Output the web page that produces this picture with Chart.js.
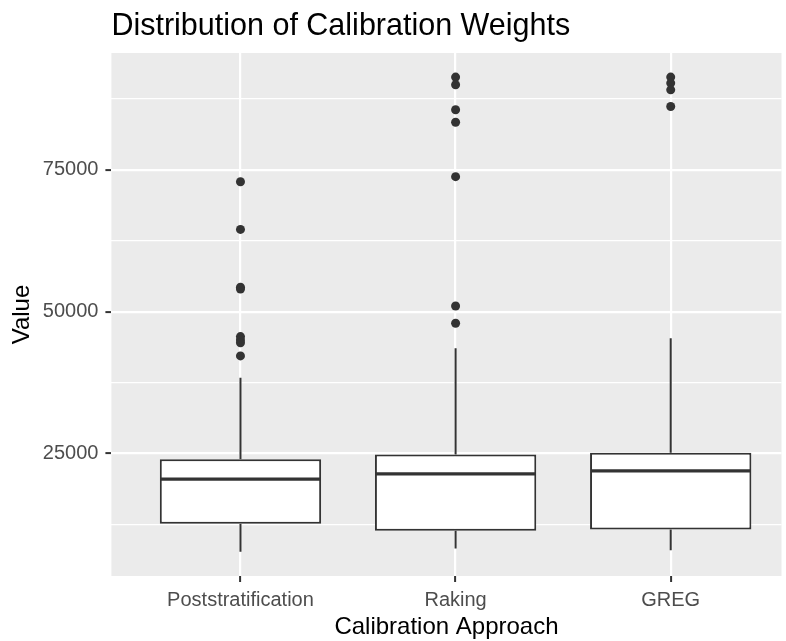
<!DOCTYPE html>
<html>
<head>
<meta charset="utf-8">
<script src="https://cdn.jsdelivr.net/npm/chart.js@4.4.1/dist/chart.umd.min.js"></script>
<style>
  html, body { margin: 0; padding: 0; background: #fff; }
  #wrap { width: 786px; height: 641px; position: relative; }
</style>
</head>
<body>
<div id="wrap"><canvas id="box"></canvas></div>
<script>
/* ggplot-style boxplot: calibration weights by approach */
var CATS = ['Poststratification', 'Raking', 'GREG'];
// five-number summaries
var WLO = [7660, 8260, 7960];
var Q1  = [12600, 11360, 11610];
var MED = [20480, 21420, 21950];
var Q3  = [23960, 24840, 25120];
var WHI = [38360, 43540, 45310];
// outliers per approach
var OUT_POST = [72900, 64500, 54300, 54000, 45600, 45000, 44500, 42200];
var OUT_RAKE = [91350, 90000, 85600, 83400, 73800, 51000, 47950];
var OUT_GREG = [91350, 90300, 89100, 86170];
var Y_TICKS = [12500, 25000, 37500, 50000, 62500, 75000, 87500];
var Y_MAJOR = [25000, 50000, 75000];

var INK = '#333333', GREY = '#4D4D4D', PANEL = '#EBEBEB', FONT = "'Liberation Sans', Arial, sans-serif";

function isMajor(v) { return Y_MAJOR.indexOf(v) >= 0; }

var outPts = [];
[OUT_POST, OUT_RAKE, OUT_GREG].forEach(function (arr, i) {
  arr.forEach(function (v) { outPts.push({ x: i + 1, y: v }); });
});

var boxPlugin = {
  id: 'ggbox',
  beforeDraw: function (chart) {
    var a = chart.chartArea, c = chart.ctx;
    c.save(); c.fillStyle = PANEL; c.fillRect(a.left, a.top, a.right - a.left, a.bottom - a.top); c.restore();
  },
  beforeDatasetsDraw: function (chart) {
    var c = chart.ctx, xs = chart.scales.x, ys = chart.scales.y;
    c.save(); c.strokeStyle = INK; c.lineWidth = 2;
    CATS.forEach(function (_, i) {
      var px = xs.getPixelForValue(i + 1);
      c.beginPath();
      c.moveTo(px, ys.getPixelForValue(Q3[i])); c.lineTo(px, ys.getPixelForValue(WHI[i]));
      c.moveTo(px, ys.getPixelForValue(Q1[i])); c.lineTo(px, ys.getPixelForValue(WLO[i]));
      c.stroke();
    });
    c.restore();
  },
  afterDatasetsDraw: function (chart) {
    var c = chart.ctx, xs = chart.scales.x, ys = chart.scales.y;
    var half = (xs.getPixelForValue(1.375) - xs.getPixelForValue(1));
    c.save(); c.strokeStyle = INK; c.lineWidth = 3.2;
    CATS.forEach(function (_, i) {
      var px = xs.getPixelForValue(i + 1), py = ys.getPixelForValue(MED[i]);
      c.beginPath(); c.moveTo(px - half + 1, py); c.lineTo(px + half - 1, py); c.stroke();
    });
    c.restore();
  }
};

new Chart(document.getElementById('box').getContext('2d'), {
  data: {
    datasets: [
      { type: 'scatter', data: outPts, pointRadius: 4.5, pointBackgroundColor: INK, pointBorderWidth: 0, order: 0 },
      { type: 'bar', data: CATS.map(function (_, i) { return { x: i + 1, y: [Q1[i], Q3[i]] }; }),
        backgroundColor: '#fff', borderColor: INK, borderWidth: 2, borderSkipped: false,
        categoryPercentage: 1, barPercentage: 0.75, order: 1 }
    ]
  },
  options: {
    responsive: true, maintainAspectRatio: false, animation: false,
    layout: { padding: 0 },
    plugins: {
      legend: { display: false }, tooltip: { enabled: false },
      title: { display: true, text: 'Distribution of Calibration Weights', align: 'start', fullSize: false,
        color: '#000', font: { family: FONT, size: 30.5, weight: 'normal', lineHeight: 1.2 },
        padding: { top: 8.5, bottom: 7.9 } }
    },
    scales: {
      x: { type: 'linear', min: 0.4, max: 3.515, offset: false,
        afterBuildTicks: function (s) { s.ticks = CATS.map(function (_, i) { return { value: i + 1 }; }); },
        afterFit: function (s) { s.height = 65; },
        border: { display: false },
        grid: { offset: false, color: '#fff', lineWidth: 2.2, tickColor: INK, tickLength: 6, tickWidth: 2 },
        ticks: { color: GREY, font: { family: FONT, size: 20 }, padding: 6, maxRotation: 0, autoSkip: false,
          callback: function (v) { return CATS[v - 1]; } },
        title: { display: true, text: 'Calibration Approach', color: '#000', font: { family: FONT, size: 24 }, padding: { top: 0, bottom: -1 } } },
      y: { type: 'linear', min: 3400, max: 95600,
        afterBuildTicks: function (s) { s.ticks = Y_TICKS.map(function (v) { return { value: v }; }); },
        afterFit: function (s) { s.width = 111.4; },
        border: { display: false },
        grid: { color: '#fff', lineWidth: function (ctx) { return isMajor(ctx.tick.value) ? 2.2 : 1.3; },
          tickColor: function (ctx) { return isMajor(ctx.tick.value) ? INK : 'rgba(0,0,0,0)'; },
          tickLength: 6, tickWidth: 2 },
        ticks: { color: GREY, font: { family: FONT, size: 20 }, padding: 7, autoSkip: false,
          callback: function (v) { return isMajor(v) ? String(v) : ''; } },
        title: { display: true, text: 'Value', color: '#000', font: { family: FONT, size: 24 }, padding: { top: 8, bottom: 0 } } }
    }
  },
  plugins: [boxPlugin]
});
</script>
</body>
</html>
